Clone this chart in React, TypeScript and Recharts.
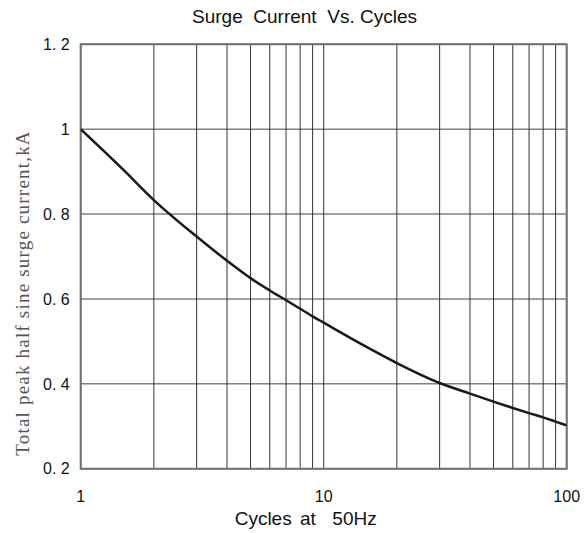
import React from 'react';
import { LineChart, Line, XAxis, YAxis, CartesianGrid, ReferenceArea } from 'recharts';

const titleText = 'Surge  Current  Vs. Cycles';
const xAxisTitle = 'Cycles at  50Hz';
const yAxisTitle = 'Total peak half sine surge current,kA';

const cycles = [1, 1.5, 2, 3, 4, 5, 6, 7, 8, 9, 10, 15, 20, 30, 40, 50, 60, 70, 80, 90, 100];
const surgeKA = [1.0, 0.904, 0.833, 0.747, 0.69, 0.649, 0.62, 0.597, 0.577, 0.559, 0.544, 0.487, 0.449, 0.402, 0.377, 0.358, 0.343, 0.331, 0.321, 0.311, 0.302];

const xTicks = [1, 2, 3, 4, 5, 6, 7, 8, 9, 10, 20, 30, 40, 50, 60, 70, 80, 90, 100];
const xTickLabels = [1, 10, 100];
const yTicks = [0.2, 0.4, 0.6, 0.8, 1.0, 1.2];

const data = cycles.map((c, i) => ({ cycles: c, surge: surgeKA[i] }));

const sans = '"Liberation Sans", Arial, sans-serif';
const serif = '"Liberation Serif", "Times New Roman", serif';

const fmtY = (v: number) => (v === 1 ? '1' : v.toFixed(1).replace('.', '. '));
const fmtX = (v: number) => (xTickLabels.includes(v) ? String(v) : '');

const XLabel = (props: any) => {
  const vb = props.viewBox || { x: 0, y: 0, width: 0, height: 0 };
  return (
    <text
      x={vb.x + vb.width / 2 - 18}
      y={vb.y + 56.5}
      textAnchor="middle"
      fontFamily={sans}
      fontSize={19}
      fill="#111"
      style={{ whiteSpace: 'pre', wordSpacing: 3 }}
    >
      {xAxisTitle}
    </text>
  );
};

const YLabel = (props: any) => {
  const vb = props.viewBox || { x: 0, y: 0, width: 0, height: 0 };
  const cx = vb.x + 29.3;
  const cy = vb.y + vb.height / 2 + 36.5;
  return (
    <text
      x={cx}
      y={cy}
      transform={`rotate(-90, ${cx}, ${cy})`}
      textAnchor="middle"
      fontFamily={serif}
      fontSize={19}
      fill="#555"
      style={{ letterSpacing: 1.2 }}
    >
      {yAxisTitle}
    </text>
  );
};

export default function App() {
  return (
    <div style={{ position: 'fixed', left: 0, top: 0, width: 585, height: 533, background: '#fff' }}>
      <div
        style={{
          position: 'absolute',
          left: 0,
          top: 6.6,
          width: 585,
          paddingLeft: 24,
          boxSizing: 'border-box',
          textAlign: 'center',
          fontFamily: sans,
          fontSize: 19,
          lineHeight: '19px',
          color: '#111',
          whiteSpace: 'pre',
        }}
      >
        {titleText}
      </div>
      <LineChart width={585} height={533} data={data} margin={{ top: 44.3, right: 18.3, left: 0, bottom: 0 }}>
        <CartesianGrid vertical={false} stroke="#808080" strokeWidth={1.5} />
        <CartesianGrid horizontal={false} stroke="#333" strokeWidth={1} />
        <XAxis
          dataKey="cycles"
          type="number"
          scale="log"
          domain={[1, 100]}
          ticks={xTicks}
          interval={0}
          tickFormatter={fmtX}
          axisLine={false}
          tickLine={false}
          tickSize={0}
          tickMargin={22}
          height={64.3}
          tick={{ fontFamily: sans, fontSize: 16, fill: '#111' }}
          allowDataOverflow
          label={{ content: XLabel }}
        />
        <YAxis
          type="number"
          domain={[0.2, 1.2]}
          ticks={yTicks}
          interval={0}
          tickFormatter={fmtY}
          axisLine={false}
          tickLine={false}
          tickSize={0}
          tickMargin={11}
          width={80.7}
          tick={{ fontFamily: sans, fontSize: 16, fill: '#111' }}
          allowDataOverflow
          label={{ content: YLabel }}
        />
        <ReferenceArea x1={1} x2={100} y1={0.2} y2={1.2} fill="none" stroke="#707070" strokeWidth={2} />
        <Line
          type="monotone"
          dataKey="surge"
          stroke="#1a1a1a"
          strokeWidth={2.5}
          dot={false}
          isAnimationActive={false}
        />
      </LineChart>
    </div>
  );
}
